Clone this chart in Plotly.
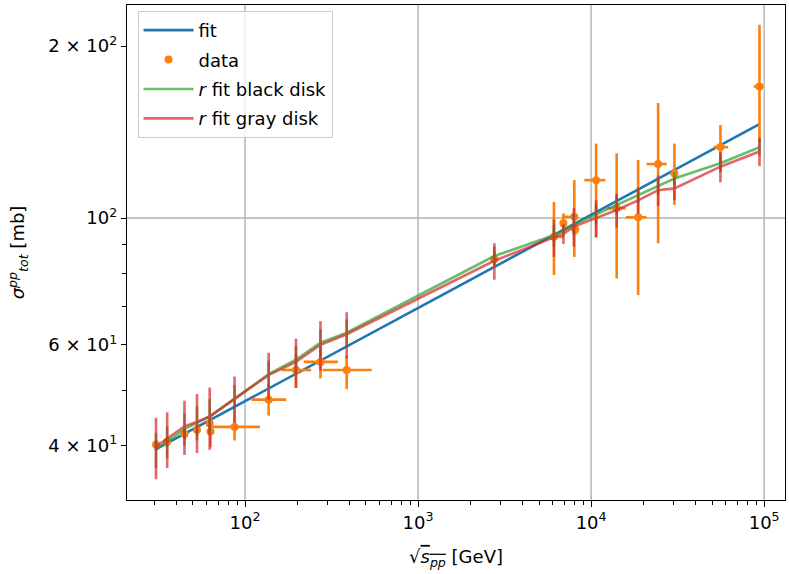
import math
import plotly.graph_objects as go

# ---------------- data ----------------
# measured total pp cross sections (orange)
data_x = [30.6, 35.5, 44.7, 52.8, 62.5, 63.2, 87, 137, 197, 273, 387, 2760,
          6100, 6920, 8000, 8100, 10690, 14060, 18700, 24400, 30300, 55900, 94000]
data_y = [40.1, 40.6, 41.9, 42.6, 43.7, 42.3, 43.1, 48.1, 54.2, 56.0, 54.2, 84.7,
          92.7, 97.9, 100.5, 95.5, 116.5, 104.0, 100.3, 124.3, 119.7, 133.1, 169.9]
data_yerr_plus = [0.8, 0.8, 0.9, 0.9, 0.9, 2.6, 2.3, 3.0, 3.5, 3.5, 3.2, 3.0,
                  14.0, 4.0, 16.0, 2.0, 18.5, 25.8, 26.1, 34.7, 15.3, 12.4, 48.0]
data_yerr_minus = [0.8, 0.8, 0.9, 0.9, 0.9, 2.6, 2.3, 3.0, 3.8, 3.6, 4.0, 3.0,
                   13.2, 4.0, 15.0, 2.0, 23.8, 25.6, 27.0, 34.0, 14.3, 12.4, 34.0]
data_xerr_minus = [0, 0, 0, 0, 0, 0, 23, 28, 34, 54, 106, 0,
                   400, 0, 1220, 0, 1560, 1760, 2800, 3500, 0, 4900, 7000]
data_xerr_plus = [0, 0, 0, 0, 0, 0, 35, 36, 44, 71, 153, 0,
                  800, 0, 280, 0, 1410, 1740, 2200, 3000, 0, 6100, 5000]

# power-law fit (blue)
fit_x = [30.6, 94000]
fit_y = [39.4, 146.0]

# model evaluations with r fit (green: black disk, red: gray disk)
model_x = [30.6, 35.5, 44.7, 52.8, 62.5, 87, 137, 197, 273, 387, 2760,
           6100, 6920, 7950, 10690, 14060, 18700, 24400, 30300, 55900, 94000]
black_y = [39.3, 40.6, 42.7, 43.8, 45.0, 48.2, 53.3, 56.5, 60.5, 63.0, 85.8,
           93.3, 95.0, 97.4, 101.5, 105.5, 109.5, 114.0, 117.3, 124.7, 133.0]
black_err = [2.8, 2.6, 2.8, 3.0, 3.2, 2.8, 3.0, 3.2, 3.4, 3.4, 3.5,
             4.0, 2.2, 4.2, 4.2, 4.0, 3.4, 4.0, 3.2, 4.4, 4.4]
gray_y = [39.8, 41.1, 43.2, 44.0, 44.9, 48.3, 53.1, 56.0, 60.0, 62.6, 84.2,
          92.5, 93.8, 96.6, 99.9, 103.3, 107.4, 111.9, 112.7, 123.0, 130.8]
gray_err = [4.9, 4.6, 4.7, 5.2, 5.6, 4.5, 5.0, 5.5, 6.0, 5.8, 6.2,
            7.0, 3.7, 7.5, 7.5, 7.0, 5.8, 6.8, 5.2, 7.5, 7.5]

# axes
x_range = [20.8, 132000]
y_range = [32.1, 236.0]
x_major = [100, 1000, 10000, 100000]
x_major_text = ["10<sup>2</sup>", "10<sup>3</sup>", "10<sup>4</sup>", "10<sup>5</sup>"]
x_minor = [30, 40, 50, 60, 70, 80, 90, 200, 300, 400, 500, 600, 700, 800, 900,
           2000, 3000, 4000, 5000, 6000, 7000, 8000, 9000,
           20000, 30000, 40000, 50000, 60000, 70000, 80000, 90000]
y_ticks = [40, 60, 100, 200]
y_ticks_text = ["4 × 10<sup>1</sup>", "6 × 10<sup>1</sup>", "10<sup>2</sup>", "2 × 10<sup>2</sup>"]
y_minor = [50, 70, 80, 90]
x_grid = [100, 1000, 10000, 100000]
y_grid = [100]

BLUE = "#1f77b4"
ORANGE = "#ff7f0e"
GREEN = "#2ca02c"
RED = "#d62728"
FONT = "DejaVu Sans, Liberation Sans, sans-serif"
FS = 18

fig = go.Figure()

fig.add_trace(go.Scatter(
    x=fit_x, y=fit_y, mode="lines", name="fit", legendgroup="a",
    line=dict(color=BLUE, width=2.6)))

fig.add_trace(go.Scatter(
    x=data_x, y=data_y, mode="markers", name="data", legendgroup="b",
    marker=dict(color=ORANGE, size=8, symbol="circle"),
    error_y=dict(type="data", symmetric=False, array=data_yerr_plus,
                 arrayminus=data_yerr_minus, color=ORANGE, thickness=2.6, width=0),
    error_x=dict(type="data", symmetric=False, array=data_xerr_plus,
                 arrayminus=data_xerr_minus, color=ORANGE, thickness=2.6, width=0)))

fig.add_trace(go.Scatter(
    x=model_x, y=black_y, mode="lines", name="<i>r</i> fit black disk", legendgroup="c",
    line=dict(color=GREEN, width=2.6), opacity=0.7,
    error_y=dict(type="data", array=black_err, color=GREEN, thickness=2.6, width=0)))

fig.add_trace(go.Scatter(
    x=model_x, y=gray_y, mode="lines", name="<i>r</i> fit gray disk", legendgroup="d",
    line=dict(color=RED, width=2.6), opacity=0.7,
    error_y=dict(type="data", array=gray_err, color=RED, thickness=2.6, width=0)))

shapes = []
for gx in x_grid:
    shapes.append(dict(type="line", xref="x", yref="paper", x0=gx, x1=gx, y0=0, y1=1,
                       line=dict(color="#b0b0b0", width=1.4), layer="below"))
for gy in y_grid:
    shapes.append(dict(type="line", xref="paper", yref="y", x0=0, x1=1, y0=gy, y1=gy,
                       line=dict(color="#b0b0b0", width=1.4), layer="below"))

fig.update_layout(
    width=789, height=574,
    margin=dict(l=127, r=4, t=5, b=74),
    paper_bgcolor="white", plot_bgcolor="white",
    font=dict(family=FONT, size=FS, color="black"),
    shapes=shapes,
    showlegend=True,
    legend=dict(x=0.016, y=0.988, xanchor="left", yanchor="top",
                bgcolor="rgba(255,255,255,0.8)", bordercolor="#cccccc", borderwidth=1,
                font=dict(family=FONT, size=FS), tracegroupgap=3,
                itemwidth=50, traceorder="grouped"),
    xaxis=dict(type="log", range=[math.log10(x_range[0]), math.log10(x_range[1])],
               showgrid=False, zeroline=False,
               showline=True, linecolor="black", linewidth=1.4, mirror=True,
               ticks="outside", ticklen=6, tickwidth=1.2, tickcolor="black",
               tickmode="array", tickvals=x_major, ticktext=x_major_text,
               tickfont=dict(size=FS),
               minor=dict(tickmode="array", tickvals=x_minor, ticks="outside",
                          ticklen=3.5, tickwidth=1, tickcolor="black", showgrid=False),
               title=dict(text="√<span style='text-decoration:overline'><i>s<sub>pp</sub></i></span> [GeV]",
                          standoff=18, font=dict(size=FS))),
    yaxis=dict(type="log", range=[math.log10(y_range[0]), math.log10(y_range[1])],
               showgrid=False, zeroline=False,
               showline=True, linecolor="black", linewidth=1.4, mirror=True,
               ticks="outside", ticklen=5, tickwidth=1.2, tickcolor="black",
               tickmode="array", tickvals=y_ticks, ticktext=y_ticks_text,
               tickfont=dict(size=FS),
               minor=dict(tickmode="array", tickvals=y_minor, ticks="outside",
                          ticklen=3.5, tickwidth=1, tickcolor="black", showgrid=False),
               title=dict(text="<i>σ</i><sup><i>pp</i></sup><sub><i>tot</i></sub> [mb]",
                          standoff=18, font=dict(size=FS))),
)

fig.write_html("out.html")
